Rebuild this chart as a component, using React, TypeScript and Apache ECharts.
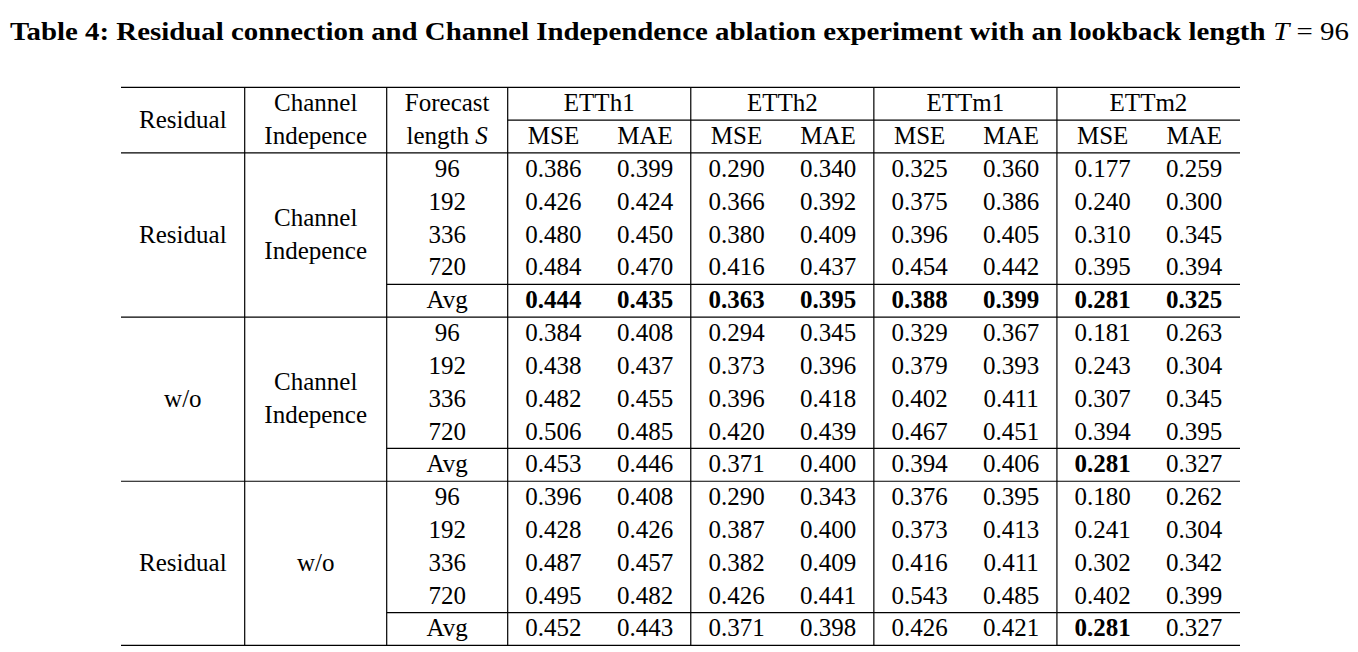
import React, { useEffect, useRef } from "react";
import * as echarts from "echarts";

const datasets = ["ETTh1", "ETTh2", "ETTm1", "ETTm2"];
const metrics = ["MSE", "MAE"];
const horizons = ["96", "192", "336", "720", "Avg"];

const groupResidual = ["Residual", "w/o", "Residual"];
const groupChannel = [["Channel", "Indepence"], ["Channel", "Indepence"], ["w/o"]];

const g1Values = [
  ["0.386", "0.399", "0.290", "0.340", "0.325", "0.360", "0.177", "0.259"],
  ["0.426", "0.424", "0.366", "0.392", "0.375", "0.386", "0.240", "0.300"],
  ["0.480", "0.450", "0.380", "0.409", "0.396", "0.405", "0.310", "0.345"],
  ["0.484", "0.470", "0.416", "0.437", "0.454", "0.442", "0.395", "0.394"],
  ["0.444", "0.435", "0.363", "0.395", "0.388", "0.399", "0.281", "0.325"],
];
const g2Values = [
  ["0.384", "0.408", "0.294", "0.345", "0.329", "0.367", "0.181", "0.263"],
  ["0.438", "0.437", "0.373", "0.396", "0.379", "0.393", "0.243", "0.304"],
  ["0.482", "0.455", "0.396", "0.418", "0.402", "0.411", "0.307", "0.345"],
  ["0.506", "0.485", "0.420", "0.439", "0.467", "0.451", "0.394", "0.395"],
  ["0.453", "0.446", "0.371", "0.400", "0.394", "0.406", "0.281", "0.327"],
];
const g3Values = [
  ["0.396", "0.408", "0.290", "0.343", "0.376", "0.395", "0.180", "0.262"],
  ["0.428", "0.426", "0.387", "0.400", "0.373", "0.413", "0.241", "0.304"],
  ["0.487", "0.457", "0.382", "0.409", "0.416", "0.411", "0.302", "0.342"],
  ["0.495", "0.482", "0.426", "0.441", "0.543", "0.485", "0.402", "0.399"],
  ["0.452", "0.443", "0.371", "0.398", "0.426", "0.421", "0.281", "0.327"],
];
// bold flags for Avg rows (per column)
const g1AvgBold = [1, 1, 1, 1, 1, 1, 1, 1];
const g2AvgBold = [0, 0, 0, 0, 0, 0, 1, 0];
const g3AvgBold = [0, 0, 0, 0, 0, 0, 1, 0];

const groups = [
  { values: g1Values, bold: g1AvgBold },
  { values: g2Values, bold: g2AvgBold },
  { values: g3Values, bold: g3AvgBold },
];

const FONT = "'Liberation Serif', 'Times New Roman', serif";
const FS = 25;

export default function App() {
  const ref = useRef<HTMLDivElement>(null);
  useEffect(() => {
    if (!ref.current) return;
    const chart = echarts.init(ref.current, null, { renderer: "svg" });

    const xL = 121, xR = 1240;
    const vRes = 244.7, vCh = 386.7, vFc = 507.7;
    const dsW = (xR - vFc) / 4;
    const y0 = 87.3, h = 32.83;
    const lw = 1.2;
    const els: any[] = [];
    const hline = (x1: number, x2: number, y: number) =>
      els.push({ type: "line", shape: { x1, y1: y, x2, y2: y }, style: { stroke: "#000", lineWidth: lw } });
    const vline = (x: number, y1: number, y2: number) =>
      els.push({ type: "line", shape: { x1: x, y1, x2: x, y2 }, style: { stroke: "#000", lineWidth: lw } });
    const txt = (x: number, y: number, text: string, bold = false, extra: any = {}) =>
      els.push({
        type: "text",
        x,
        y,
        style: {
          text,
          fontFamily: FONT,
          fontSize: FS,
          fontWeight: bold ? "bold" : "normal",
          fill: "#000",
          align: "center",
          verticalAlign: "middle",
          ...extra,
        },
      });
    const rowY = (k: number) => y0 + k * h;
    const rowC = (k: number) => y0 + (k + 0.5) * h - 1;

    // Title
    els.push({
      type: "text",
      x: 10,
      y: 31,
      scaleX: 1.11,
      style: {
        text: "{b|Table 4: Residual connection and Channel Independence ablation experiment with an lookback length }{i|T}{r| = 96}",
        verticalAlign: "middle",
        align: "left",
        rich: {
          b: { fontFamily: FONT, fontSize: 26, fontWeight: "bold", fill: "#000" },
          i: { fontFamily: FONT, fontSize: 26, fontStyle: "italic", fill: "#000" },
          r: { fontFamily: FONT, fontSize: 26, fill: "#000" },
        },
      },
    });

    // lines
    hline(xL, xR, rowY(0));
    hline(vFc, xR, rowY(1));
    hline(xL, xR, rowY(2));
    for (let g = 0; g < 3; g++) {
      const base = 2 + g * 5;
      hline(vCh, xR, rowY(base + 4));
      hline(xL, xR, rowY(base + 5));
    }
    const yTop = rowY(0), yBot = rowY(17);
    [vRes, vCh, vFc].forEach((x) => vline(x, yTop, yBot));
    for (let d = 1; d < 4; d++) vline(vFc + d * dsW, yTop, yBot);

    // header
    txt((xL + vRes) / 2, (rowC(0) + rowC(1)) / 2, "Residual");
    txt((vRes + vCh) / 2, rowC(0), "Channel");
    txt((vRes + vCh) / 2, rowC(1), "Indepence");
    txt((vCh + vFc) / 2, rowC(0), "Forecast");
    els.push({
      type: "text",
      x: (vCh + vFc) / 2,
      y: rowC(1),
      style: {
        text: "{r|length }{i|S}",
        align: "center",
        verticalAlign: "middle",
        rich: {
          r: { fontFamily: FONT, fontSize: FS, fill: "#000" },
          i: { fontFamily: FONT, fontSize: FS, fontStyle: "italic", fill: "#000" },
        },
      },
    });
    datasets.forEach((ds, d) => {
      txt(vFc + d * dsW + dsW / 2, rowC(0), ds);
      metrics.forEach((m, j) => txt(vFc + d * dsW + (j + 0.5) * dsW / 2, rowC(1), m));
    });

    // body
    groups.forEach((grp, g) => {
      const base = 2 + g * 5;
      const mid = (rowC(base) + rowC(base + 4)) / 2;
      txt((xL + vRes) / 2, mid, groupResidual[g]);
      const ch = groupChannel[g];
      if (ch.length === 1) txt((vRes + vCh) / 2, mid, ch[0]);
      else {
        txt((vRes + vCh) / 2, mid - h / 2, ch[0]);
        txt((vRes + vCh) / 2, mid + h / 2, ch[1]);
      }
      horizons.forEach((hz, r) => {
        txt((vCh + vFc) / 2, rowC(base + r), hz);
        grp.values[r].forEach((v, c) => {
          const bold = r === 4 && grp.bold[c] === 1;
          txt(vFc + (c + 0.5) * dsW / 2, rowC(base + r), v, bold);
        });
      });
    });

    chart.setOption({ animation: false, graphic: { elements: els } });
    return () => chart.dispose();
  }, []);
  return (
    <div
      ref={ref}
      style={{ position: "fixed", left: 0, top: 0, width: 1358, height: 652, background: "#fff" }}
    />
  );
}
